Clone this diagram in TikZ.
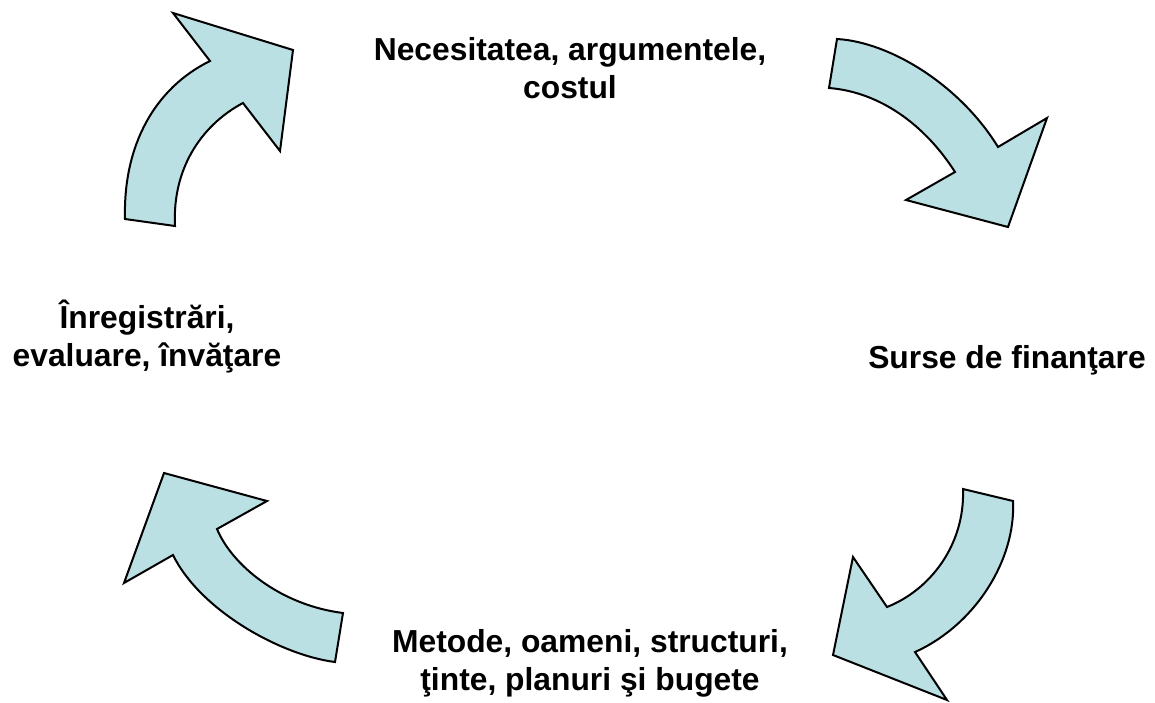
\documentclass[tikz,border=0pt]{standalone}
\usepackage{fontspec}
\setmainfont{Liberation Sans}
\usepackage{xcolor}
\definecolor{arrowfill}{RGB}{187,224,227}
\usepackage{tikz}

\begin{document}
\begin{tikzpicture}[x=1pt,y=-1pt,
    bentarrow/.style={fill=arrowfill, draw=black, line width=2pt, line join=miter},
    cyclelabel/.style={font=\fontsize{31.8}{38}\selectfont\bfseries, align=center, inner sep=0pt, anchor=base}]
  \useasboundingbox (0,0) rectangle (1155,702);
  % Arrow top left
  \draw[bentarrow] (125,219) .. controls (123,145) and (155,88) .. (210,61)
    -- (173,13) -- (293,50) -- (280,151) -- (243,103)
    .. controls (205,123) and (172,165) .. (175,226) -- cycle;
  % Arrow top right
  \draw[bentarrow] (837,39) .. controls (890,42) and (960,85) .. (998,147)
    -- (1047,118) -- (1008,227) -- (906,200) -- (955,172)
    .. controls (925,125) and (880,92) .. (829,88) -- cycle;
  % Arrow bottom right
  \draw[bentarrow] (1013,501) .. controls (1016,560) and (975,625) .. (915,652)
    -- (947,700) -- (833,655) -- (853,557) -- (887,607)
    .. controls (930,590) and (965,545) .. (963,489) -- cycle;
  % Arrow bottom left
  \draw[bentarrow] (335,662) .. controls (280,655) and (200,610) .. (173,555)
    -- (124,583) -- (164,473) -- (267,501) -- (217,529)
    .. controls (232,565) and (280,605) .. (343,613) -- cycle;

  % Labels (base = last line)
  \node[cyclelabel] (need) at (570,98) {Necesitatea, argumentele,\\ costul};
  \node[cyclelabel] (funds) at (1007,368) {Surse de finanţare};
  \node[cyclelabel] (means) at (590,690) {Metode, oameni, structuri,\\ ţinte, planuri şi bugete};
  \node[cyclelabel] (records) at (147,366) {Înregistrări,\\ evaluare, învăţare};
\end{tikzpicture}
\end{document}
